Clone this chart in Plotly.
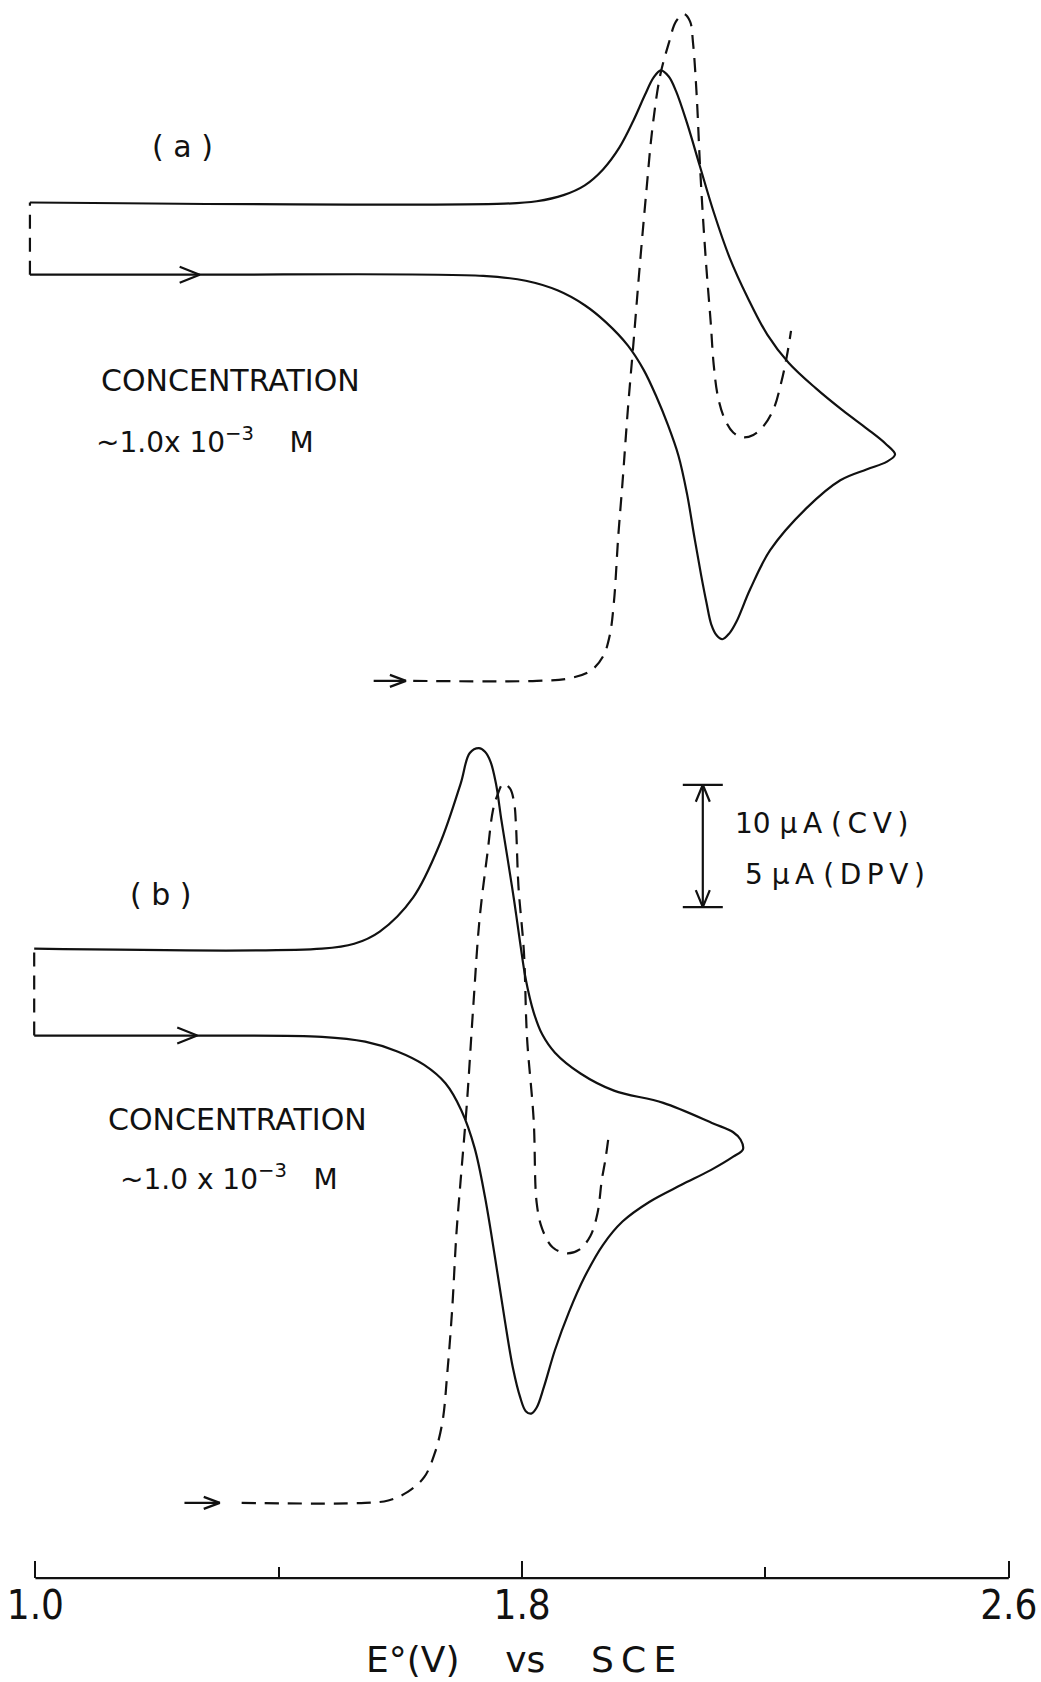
import plotly.graph_objects as go

# Potentials in V vs SCE; currents in µA on the CV scale, measured from the
# forward-scan baseline of each panel (oxidation current drawn downward).

# ---------------- panel (a) ----------------
A_CV_FWD_E = [0.991, 1.268, 1.736, 1.806, 1.859, 1.903, 1.938, 1.974, 2.000, 2.021,
              2.039, 2.057, 2.071, 2.083, 2.094, 2.103, 2.111, 2.120, 2.129, 2.141,
              2.152, 2.175, 2.208, 2.267, 2.323, 2.367, 2.399, 2.413]
A_CV_FWD_I = [0.0, 0.0, -0.1, -0.5, -1.3, -2.5, -3.9, -5.8, -7.8, -10.0,
              -12.2, -14.8, -17.9, -21.4, -24.5, -26.8, -28.6, -29.5, -29.8, -29.3,
              -28.4, -25.7, -22.5, -19.1, -16.8, -15.9, -15.3, -14.7]
A_CV_REV_E = [2.413, 2.397, 2.367, 2.327, 2.283, 2.238, 2.203, 2.171, 2.141, 2.115,
              2.092, 2.071, 2.053, 2.041, 2.028, 2.016, 2.002, 1.983, 1.960, 1.933,
              1.903, 1.868, 1.824, 1.771, 0.991]
A_CV_REV_I = [-14.7, -13.8, -12.6, -11.1, -9.3, -7.2, -4.9, -1.9, 1.4, 5.1,
              8.9, 12.4, 15.0, 16.2, 16.7, 16.1, 14.7, 12.6, 10.4, 8.6,
              7.3, 6.5, 6.0, 5.8, 5.9]
A_DPV_E = [1.621, 1.824, 1.877, 1.912, 1.933, 1.944, 1.951, 1.958, 1.965, 1.974,
           1.983, 1.993, 2.004, 2.014, 2.027, 2.041, 2.053, 2.066, 2.076, 2.081,
           2.087, 2.092, 2.097, 2.103, 2.110, 2.115, 2.122, 2.133, 2.147, 2.163,
           2.180, 2.198, 2.214, 2.226, 2.235, 2.242]
A_DPV_I = [-33.2, -33.2, -33.0, -32.4, -31.2, -29.5, -26.7, -21.4, -17.0, -10.9,
           -5.6, 0.5, 6.7, 11.9, 16.3, 18.9, 20.7, 21.3, 20.7, 18.9,
           14.6, 9.3, 4.9, 0.5, -3.9, -7.4, -10.0, -11.8, -12.9, -13.3,
           -13.1, -12.3, -10.9, -8.8, -6.7, -4.6]
A_CV_ARROW_E = 1.270
A_DPV_ARROW = (1.556, 1.609)

# ---------------- panel (b) ----------------
B_CV_FWD_E = [0.998, 1.265, 1.471, 1.542, 1.595, 1.639, 1.674, 1.700, 1.722, 1.739,
              1.755, 1.771, 1.785, 1.797, 1.806, 1.815, 1.824, 1.836, 1.854, 1.877,
              1.903, 1.933, 1.965, 2.009, 2.062, 2.110, 2.147, 2.163]
B_CV_FWD_I = [0.0, 0.0, -0.1, -0.5, -1.3, -2.4, -3.9, -6.1, -9.2, -13.2,
              -18.0, -23.1, -27.2, -29.6, -30.7, -30.9, -30.4, -28.7, -25.7, -22.6,
              -19.7, -17.1, -15.2, -13.6, -12.2, -11.0, -9.9, -9.3]
B_CV_REV_E = [2.163, 2.159, 2.147, 2.115, 2.032, 1.951, 1.896, 1.854, 1.833, 1.819,
              1.806, 1.797, 1.787, 1.776, 1.766, 1.757, 1.748, 1.739, 1.729, 1.714,
              1.699, 1.665, 1.621, 1.566, 1.524, 1.471, 0.998]
B_CV_REV_I = [-9.3, -8.5, -7.9, -7.2, -5.5, -4.5, -3.1, -1.4, 0.1, 1.9,
              4.6, 7.5, 11.0, 14.5, 17.6, 20.6, 22.4, 23.2, 23.5, 23.1,
              20.6, 15.7, 11.3, 8.5, 7.5, 7.1, 7.1]
B_DPV_E = [1.339, 1.542, 1.580, 1.612, 1.639, 1.656, 1.669, 1.677, 1.685, 1.692,
           1.699, 1.709, 1.720, 1.730, 1.743, 1.752, 1.759, 1.769, 1.780, 1.787,
           1.790, 1.794, 1.803, 1.808, 1.819, 1.824, 1.833, 1.850, 1.873, 1.894,
           1.912, 1.924, 1.931, 1.937, 1.942]
B_DPV_I = [-38.2, -38.2, -38.0, -37.3, -36.1, -34.2, -31.6, -27.6, -22.4, -16.2,
           -11.8, -5.7, 2.6, 9.5, 14.9, 18.4, 19.6, 20.6, 20.2, 19.0,
           17.1, 12.2, 6.8, -0.1, -6.9, -13.7, -15.8, -17.3, -17.8, -17.5,
           -16.4, -14.5, -11.8, -10.1, -8.3]
B_CV_ARROW_E = 1.266
B_DPV_ARROW = (1.245, 1.303)

# current scale bar (drawn on panel b axes): 10 µA for CV, 5 µA for DPV
SCALE_E = 2.097
SCALE_BOTTOM = 10.5
SCALE_CV_UA = 10
SCALE_LABELS = ["10 µ\u2009A (\u2009C\u2009V\u2009)", "5 µ\u2009A (\u2009D\u2009P\u2009V\u2009)"]

# potential axis
X_TICKS = [1.0, 1.8, 2.6]
X_TICK_TEXT = ["1.0", "1.8", "2.6"]
X_MINOR = [1.4, 2.2]
X_TITLE = "E°(V)    vs    S\u2009C\u2009E"

# ---------------- layout geometry ----------------
W, H = 1041, 1682
X_RANGE = [0.9418, 2.6529]
YA_RANGE = [-115.03, 22.45]
YB_RANGE = [-52.84, 84.65]
AXIS_POS = 0.0618
PX_PER_V = W / (X_RANGE[1] - X_RANGE[0])
PX_PER_UA = H / (YA_RANGE[1] - YA_RANGE[0])

INK = "#111111"
LW = 2.2
DASH = "14px,9px"
FONT = "DejaVu Sans, Noto Sans, sans-serif"
NARROW = "Liberation Sans Narrow, DejaVu Sans Condensed, DejaVu Sans, sans-serif"


def chevron(x_tip, y_tip, direction, length_px, half_px):
    """Open arrowhead (two strokes) with its tip at (x_tip, y_tip)."""
    if direction in ("right", "left"):
        s = 1 if direction == "right" else -1
        dx = s * length_px / PX_PER_V
        dy = half_px / PX_PER_UA
        return [x_tip - dx, x_tip, x_tip - dx], [y_tip + dy, y_tip, y_tip - dy]
    s = 1 if direction == "up" else -1
    dx = half_px / PX_PER_V
    dy = s * length_px / PX_PER_UA
    return [x_tip - dx, x_tip, x_tip + dx], [y_tip - dy, y_tip, y_tip - dy]


def line(x, y, yaxis, dash="solid", shape="spline", width=LW):
    return go.Scatter(x=x, y=y, yaxis=yaxis, mode="lines", hoverinfo="skip",
                      line=dict(color=INK, width=width, dash=dash, shape=shape,
                                smoothing=1.0 if shape == "spline" else None),
                      showlegend=False)


fig = go.Figure()

for yax, fwdE, fwdI, revE, revI, dE, dI, cv_arrow, dpv_arrow in [
    ("y", A_CV_FWD_E, A_CV_FWD_I, A_CV_REV_E, A_CV_REV_I, A_DPV_E, A_DPV_I,
     A_CV_ARROW_E, A_DPV_ARROW),
    ("y2", B_CV_FWD_E, B_CV_FWD_I, B_CV_REV_E, B_CV_REV_I, B_DPV_E, B_DPV_I,
     B_CV_ARROW_E, B_DPV_ARROW),
]:
    # cyclic voltammogram: forward sweep then return sweep
    fig.add_trace(line(fwdE + revE[1:], fwdI + revI[1:], yax))
    # start-of-scan connector between the two baselines
    fig.add_trace(line([fwdE[0], revE[-1]], [fwdI[0], revI[-1]], yax,
                       dash=DASH, shape="linear"))
    # scan-direction arrow on the forward sweep
    cx, cy = chevron(cv_arrow, fwdI[0], "right", 20, 8)
    fig.add_trace(line(cx, cy, yax, shape="linear"))
    # differential pulse voltammogram
    fig.add_trace(line(dE, dI, yax, dash=DASH))
    # arrow leading into the DPV trace
    fig.add_trace(line([dpv_arrow[0], dpv_arrow[1]], [dI[0], dI[0]], yax, shape="linear"))
    cx, cy = chevron(dpv_arrow[1], dI[0], "right", 16, 6)
    fig.add_trace(line(cx, cy, yax, shape="linear"))

# scale bar
SCALE_TOP = SCALE_BOTTOM + SCALE_CV_UA
cap = 20 / PX_PER_V
fig.add_trace(line([SCALE_E, SCALE_E], [SCALE_BOTTOM, SCALE_TOP], "y2", shape="linear"))
fig.add_trace(line([SCALE_E - cap, SCALE_E + cap], [SCALE_TOP, SCALE_TOP], "y2", shape="linear"))
fig.add_trace(line([SCALE_E - cap, SCALE_E + cap], [SCALE_BOTTOM, SCALE_BOTTOM], "y2", shape="linear"))
cx, cy = chevron(SCALE_E, SCALE_TOP, "up", 17, 7)
fig.add_trace(line(cx, cy, "y2", shape="linear"))
cx, cy = chevron(SCALE_E, SCALE_BOTTOM, "down", 17, 7)
fig.add_trace(line(cx, cy, "y2", shape="linear"))

annotations = []


def label(text, x_px, y_px, size, anchor="center"):
    annotations.append(dict(text=text, x=x_px / W, y=1 - y_px / H, xref="paper",
                            yref="paper", showarrow=False, xanchor=anchor,
                            yanchor="middle", font=dict(family=FONT, size=size, color=INK)))


label("( a )", 182, 147, 30)
label("CONCENTRATION", 230, 381, 30)
label("~1.0x 10<sup>−3</sup>    M", 94, 440, 28, "left")
label("( b )", 161, 894, 30)
label("CONCENTRATION", 237, 1119, 30)
label("~1.0 x 10<sup>−3</sup>   M", 118, 1177, 28, "left")
label(SCALE_LABELS[0], 733, 823, 28, "left")
label(SCALE_LABELS[1], 743, 874, 28, "left")
label(X_TITLE, 521, 1659, 36)

fig.update_layout(
    width=W, height=H, margin=dict(l=0, r=0, t=0, b=0),
    paper_bgcolor="white", plot_bgcolor="white", showlegend=False,
    annotations=annotations,
    shapes=[dict(type="line", xref="x", yref="paper", x0=X_TICKS[0], x1=X_TICKS[-1],
                 y0=AXIS_POS, y1=AXIS_POS, line=dict(color=INK, width=2.2))],
    xaxis=dict(range=X_RANGE, anchor="free", position=AXIS_POS, showgrid=False,
               zeroline=False, showline=False, ticks="inside", ticklen=17,
               tickwidth=2, tickcolor=INK, tickvals=X_TICKS, ticktext=X_TICK_TEXT,
               tickfont=dict(family=NARROW, size=40, color=INK),
               minor=dict(tickvals=X_MINOR, ticks="inside", ticklen=11,
                          tickwidth=2, tickcolor=INK, showgrid=False),
               automargin=False, fixedrange=True),
    yaxis=dict(range=YA_RANGE, visible=False, domain=[0, 1], fixedrange=True),
    yaxis2=dict(range=YB_RANGE, visible=False, overlaying="y", domain=[0, 1],
                fixedrange=True),
)

fig.write_html("out.html")
